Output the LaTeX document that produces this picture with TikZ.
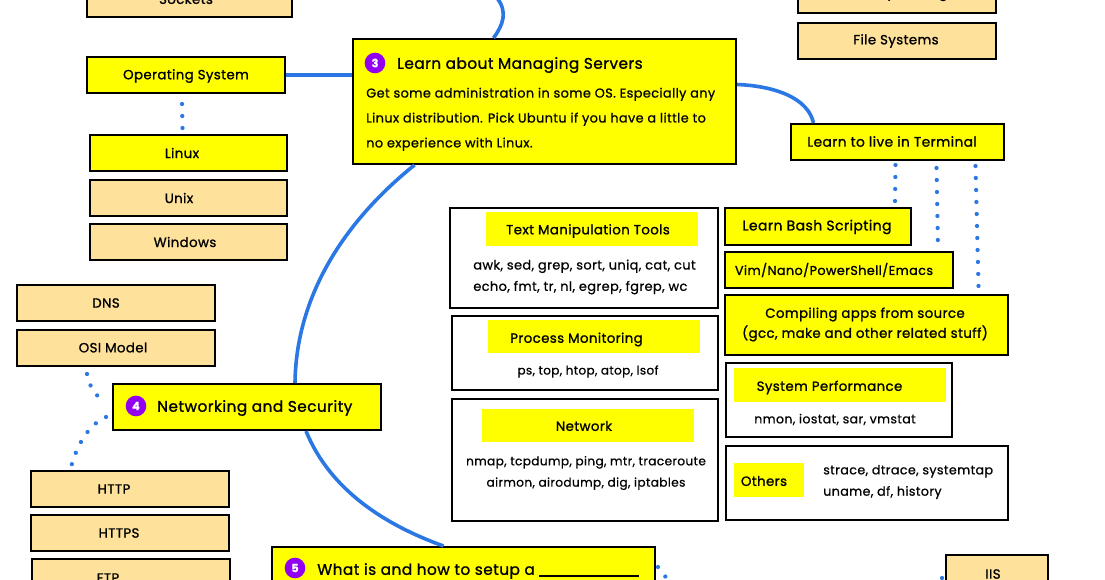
\documentclass[tikz,border=0pt]{standalone}
\usepackage{fontspec}
\usepackage{tikz}
\usetikzlibrary{calc}
\setmainfont[LetterSpace=3,FakeBold=0.7]{Poppins}
\newfontfamily\headfont[LetterSpace=3,FakeBold=1.2]{Poppins}
\definecolor{markyellow}{RGB}{255,255,0}
\definecolor{topictan}{RGB}{254,225,154}
\definecolor{linkblue}{RGB}{43,120,228}
\definecolor{numberpurple}{RGB}{146,0,240}
\tikzset{
  sizebox/.style 2 args={minimum width=#1*0.75pt,minimum height=#2*0.75pt},
  tanbox/.style={draw=black,fill=topictan,line width=1.5pt,inner sep=0pt},
  yellowbox/.style={tanbox,fill=markyellow},
  whitebox/.style={draw=black,fill=white,line width=1.5pt,inner sep=0pt},
  flagbox/.style={fill=markyellow,inner sep=0pt},
  toolstext/.style={inner sep=0pt,font=\fontsize{#1}{16}\selectfont,align=left},
  headtext/.style={inner sep=0pt,font=\headfont\fontsize{10}{12}\selectfont},
  titletext/.style={inner sep=0pt,font=\headfont\fontsize{11.5}{14}\selectfont,anchor=west},
  numberdot/.style={circle,fill=numberpurple,text=white,inner sep=0pt,minimum size=15.5pt,font=\bfseries\fontsize{8.5}{10}\selectfont},
  mainlink/.style={draw=linkblue,line width=2.7pt},
  dotlink/.style={draw=linkblue,line width=3.2pt,line cap=round,dash pattern=on 0pt off 9pt}
}
\begin{document}
\begin{tikzpicture}[x=0.75pt,y=0.75pt,yscale=-1,xscale=1]
  \clip (0,0) rectangle (1105,580);

  %Free ends of the open connectors
  \coordinate (topend) at (497,-2);
  \coordinate (rightdots) at (668,580);
  \coordinate (iisdots) at (940,586);

  %Big topics
  \node [yellowbox,sizebox={383}{125}] (managing) at (544.5,101.5) {};
  \node [yellowbox,sizebox={268}{46}] (networking) at (247,407) {};
  \node [yellowbox,sizebox={383}{70}] (webserver) at (463.5,582) {};
  \node [numberdot] (three) at (375,63) {3};
  \node [titletext] (managingtitle) at (397,65) {Learn about Managing Servers};
  \node [inner sep=0pt,anchor=north west,align=left,font=\fontsize{9.65}{18.7}\selectfont] (managingtext) at (366,87.5) {Get some administration in some OS. Especially any\\Linux distribution. Pick Ubuntu if you have a little to\\no experience with Linux.};
  \node [numberdot] (four) at (136,406) {4};
  \node [titletext] (networkingtitle) at (157,408) {Networking and Security};
  \node [numberdot] (five) at (295,568) {5};
  \node [titletext] (webservertitle) at (317,571) {What is and how to setup a \rule[-1.5pt]{75pt}{1.1pt}};

  %Left column
  \node [tanbox,sizebox={205}{36}] (sockets) at (189.5,-1) {};
  \node [yellowbox,sizebox={198}{36}] (opsys) at (186,75) {};
  \node [yellowbox,sizebox={197}{36}] (linux) at (188.5,153) {};
  \node [tanbox,sizebox={197}{36}] (unix) at (188.5,198) {};
  \node [tanbox,sizebox={197}{36}] (windows) at (188.5,242) {};
  \node [tanbox,sizebox={198}{36}] (dns) at (116,303) {};
  \node [tanbox,sizebox={198}{36}] (osi) at (116,348) {};
  \node [tanbox,sizebox={198}{36}] (http) at (130,489) {};
  \node [tanbox,sizebox={198}{36}] (https) at (130,533) {};
  \node [tanbox,sizebox={198}{36}] (ftp) at (131,577) {};
  \node [headtext] (socketslabel) at (186,-1) {Sockets};
  \node [headtext] (opsyslabel) at (186,76) {Operating System};
  \node [headtext] (linuxlabel) at (182,153) {Linux};
  \node [headtext] (unixlabel) at (179,198) {Unix};
  \node [headtext] (windowslabel) at (185,242) {Windows};
  \node [headtext] (dnslabel) at (106,303) {DNS};
  \node [headtext] (osilabel) at (113,347.5) {OSI Model};
  \node [headtext] (httplabel) at (114,489) {HTTP};
  \node [headtext] (httpslabel) at (119,533) {HTTPS};
  \node [headtext] (ftplabel) at (108,578) {FTP};

  %Right column
  \node [tanbox,sizebox={198}{36}] (memory) at (897,-5) {};
  \node [headtext] (memorylabel) at (897,-7) {Memory/Storage};
  \node [tanbox,sizebox={198}{36}] (filesys) at (897,41) {};
  \node [headtext] (filesyslabel) at (896,41) {File Systems};
  \node [yellowbox,sizebox={213}{36}] (terminal) at (897.5,142) {};
  \node [headtext,anchor=west,font=\headfont\fontsize{10.3}{12}\selectfont] (terminallabel) at (807,141.5) {Learn to live in Terminal};
  \node [yellowbox,sizebox={186}{37}] (bash) at (818,226.5) {};
  \node [headtext,font=\headfont\fontsize{10.5}{12}\selectfont] (bashlabel) at (817,227) {Learn Bash Scripting};
  \node [yellowbox,sizebox={228}{36}] (vim) at (839,270) {};
  \node [headtext,font=\headfont\fontsize{9.6}{12}\selectfont] (vimlabel) at (834,270) {Vim/Nano/PowerShell/Emacs};
  \node [yellowbox,sizebox={283}{60}] (compiling) at (866.5,325) {};
  \node [headtext,align=center,font=\headfont\fontsize{10}{15}\selectfont] (compilinglabel) at (865,324.5) {Compiling apps from source\\(gcc, make and other related stuff)};

  %Tool boxes
  \node [whitebox,sizebox={268}{100}] (textbox) at (584,258) {};
  \node [flagbox,sizebox={212}{34}] (textflag) at (592,229) {};
  \node [headtext] (textlabel) at (588,231) {Text Manipulation Tools};
  \node [toolstext=9.7] (texttools) at (584.5,277) {awk, sed, grep, sort, uniq, cat, cut\\echo, fmt, tr, nl, egrep, fgrep, wc};

  \node [whitebox,sizebox={266}{74}] (processbox) at (585,353) {};
  \node [flagbox,sizebox={212}{33}] (processflag) at (594,337) {};
  \node [headtext] (processlabel) at (576.5,339.5) {Process Monitoring};
  \node [toolstext=9] (processtools) at (588,371.5) {ps, top, htop, atop, lsof};

  \node [whitebox,sizebox={266}{122}] (netbox) at (585,460) {};
  \node [flagbox,sizebox={212}{33}] (netflag) at (588,425) {};
  \node [headtext] (netlabel) at (584,426) {Network};
  \node [toolstext=9.1,align=center] (nettools) at (586,473) {nmap, tcpdump, ping, mtr, traceroute\\airmon, airodump, dig, iptables};

  \node [whitebox,sizebox={226}{74}] (perfbox) at (839,400) {};
  \node [flagbox,sizebox={212}{33}] (perfflag) at (840,385) {};
  \node [headtext] (perflabel) at (829.5,387.5) {System Performance};
  \node [toolstext=9.4] (perftools) at (835,419.5) {nmon, iostat, sar, vmstat};

  \node [whitebox,sizebox={282}{74}] (othersbox) at (867,483) {};
  \node [flagbox,sizebox={70}{34}] (othersflag) at (769,480) {};
  \node [headtext] (otherslabel) at (764,481) {Others};
  \node [toolstext=9.5,anchor=west] (otherstools) at (823,482) {strace, dtrace, systemtap\\uname, df, history};

  \node [tanbox,sizebox={102}{50}] (iis) at (997,580) {};
  \node [headtext] (iislabel) at (993,574) {IIS};

  %Blue connectors
  \draw [mainlink] (topend) .. controls (508,12) and (503,25) .. ($(managing.north)+(-51,0)$);
  \draw [mainlink] (opsys.east) -- (opsys.east -| managing.west);
  \draw [mainlink] ($(managing.south)+(-130,0)$) .. controls (340,225) and (296,300) .. ($(networking.north)+(48,0)$);
  \draw [mainlink] ($(networking.south)+(59,0)$) .. controls (330,490) and (385,525) .. ($(webserver.north)+(-20,0)$);
  \draw [mainlink] ($(managing.east)+(0,-17)$) .. controls (775,86) and (808,98) .. ($(terminal.north)+(-84,0)$);

  %Dotted connectors
  \draw [dotlink] ($(opsys.south)+(-4,10)$) -- ($(linux.north)+(-6,-6)$);
  \draw [dotlink] ($(terminal.south)+(-2,4)$) -- ($(bash.north)+(77,-6)$);
  \draw [dotlink] ($(terminal.south)+(39,7)$) -- ($(vim.north)+(99,-3)$);
  \draw [dotlink] ($(terminal.south)+(78,5)$) -- ($(compiling.north)+(112,-8)$);
  \draw [dotlink] ($(osi.south)+(-29,7)$) .. controls (90,388) and (95,396) .. ($(networking.west)+(-6,-5)$);
  \draw [dotlink] ($(networking.west)+(-6,10)$) .. controls (90,424) and (78,442) .. ($(http.north)+(-59,-3)$);
  \draw [dotlink] ($(webserver.north east)+(2,21)$) -- (rightdots);
  \draw [dotlink] ($(iis.west)+(-3,-2)$) -- (iisdots);
\end{tikzpicture}
\end{document}
